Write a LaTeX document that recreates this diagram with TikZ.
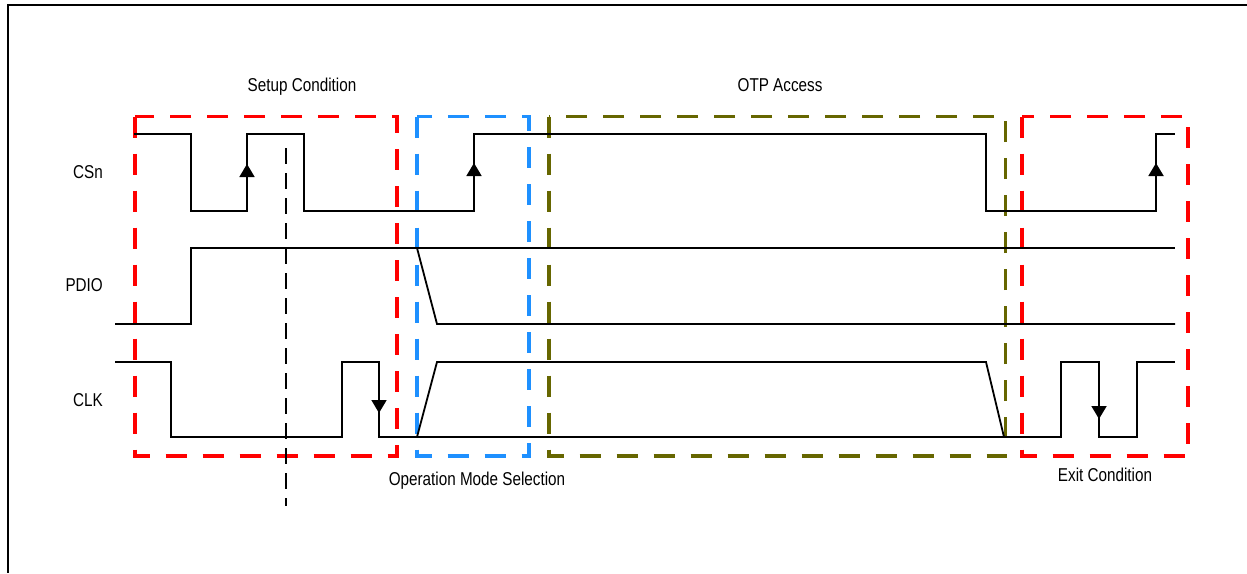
\documentclass[tikz,border=0pt]{standalone}
\usepackage{fontspec}
\setmainfont{Liberation Sans}[FakeStretch=0.82]
\usetikzlibrary{arrows.meta}
\definecolor{selblue}{RGB}{30,144,255}
\definecolor{otpolive}{RGB}{102,102,0}

\begin{document}
\begin{tikzpicture}[x=1pt,y=-1pt,
    sig/.style={line width=1.8pt},
    edgearrow/.style={line width=1.8pt,-{Triangle[width=15pt,length=13pt]}},
    phase/.style={line width=3.2pt,dash pattern=on 21pt off 16pt},
    lbl/.style={font=\fontsize{18.6}{20}\selectfont,inner sep=0pt,anchor=base}]
    \useasboundingbox (0,0) rectangle (1247,573);
    \draw[line width=2pt] (1247,5)--(8,5)--(8,573);
    % phases
    \draw[phase,red] (135,116.5) rectangle (397,456);
    \draw[phase,selblue] (417,116.5) rectangle (529,456);
    \draw[phase,otpolive] (549,116.5) rectangle (1005.5,456);
    \draw[phase,red] (1022,116.5) rectangle (1188,456);
    \draw[line width=2pt,dash pattern=on 16pt off 9pt] (286,148)--(286,506);
    % CSn
    \draw[sig] (134,134)--++(57,0)--++(0,77)--++(56,0)--++(0,-77)--++(57,0)--++(0,77)
        --++(170,0)--++(0,-77)--++(512,0)--++(0,77)--++(170,0)--++(0,-77)--++(19,0);
    \draw[edgearrow] (247,211)--(247,164);
    \draw[edgearrow] (474,211)--(474,163);
    \draw[edgearrow] (1156,211)--(1156,163);
    % PDIO
    \draw[sig] (115,324)--++(76,0)--++(0,-76)--++(984,0);
    \draw[sig] (417,248)--(437,324)--(1175,324);
    % CLK
    \draw[sig] (115,362)--++(56,0)--++(0,75)--++(171,0)--++(0,-75)--++(37,0)--++(0,75)
        --++(682,0)--++(0,-75)--++(38,0)--++(0,75)--++(38,0)--++(0,-75)--++(38,0);
    \draw[sig] (417,437)--(437,362)--(986,362)--(1004,437);
    \draw[edgearrow] (379,362)--(379,413);
    \draw[edgearrow] (1099,362)--(1099,419);
    % labels
    \node[lbl] (setup) at (302,91.7) {Setup Condition};
    \node[lbl] (otp) at (780,91.7) {OTP Access};
    \node[lbl] (opmode) at (477,485) {Operation Mode Selection};
    \node[lbl] (exit) at (1105,481) {Exit Condition};
    \node[lbl,anchor=base east] (csn) at (103,178.3) {CSn};
    \node[lbl,anchor=base east] (pdio) at (103,291.7) {PDIO};
    \node[lbl,anchor=base east] (clk) at (103,406) {CLK};
\end{tikzpicture}
\end{document}
